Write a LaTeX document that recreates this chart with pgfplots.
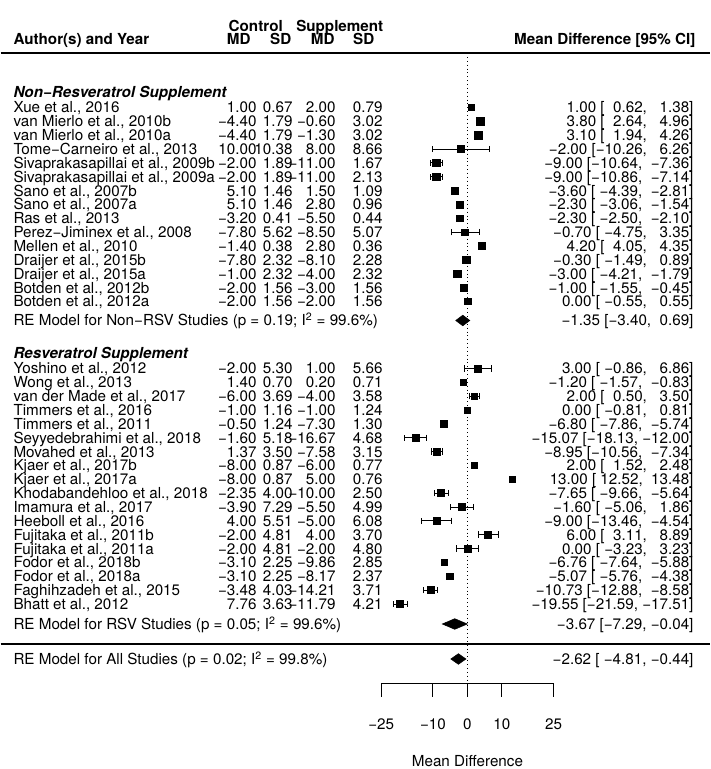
\documentclass[border=0pt]{standalone}
\usepackage{pgfplots}
\pgfplotsset{compat=1.18}
\usepackage{pgfplotstable}
\usepackage{fontspec}
\setmainfont{TeX Gyre Heros}
\newcommand\pd{\hspace{0.278em}}
\newcommand\ff{\fontsize{11.4pt}{13pt}\selectfont}
\newcommand{\studyrow}[7]{%
  \node[anchor=base west] at (axis cs:-131.65,#1) {#2};
  \node[anchor=base east] at (axis cs:-61.07,#1) {#3};
  \node[anchor=base east] at (axis cs:-50.64,#1) {#4};
  \node[anchor=base east] at (axis cs:-38.17,#1) {#5};
  \node[anchor=base east] at (axis cs:-24.55,#1) {#6};
  \node[anchor=base east] at (axis cs:65.59,#1) {#7};
}
\pgfplotstableread{
y est lo hi sz
-107.5 1.00 0.62 1.38 2.2
-121.35 3.80 2.64 4.96 2.9
-135.2 3.10 1.94 4.26 2.9
-149.05 -2.00 -10.26 6.26 2.6
-162.9 -9.00 -10.64 -7.36 2.8
-176.75 -9.00 -10.86 -7.14 2.8
-190.6 -3.60 -4.39 -2.81 2.5
-204.45 -2.30 -3.06 -1.54 2.5
-218.3 -2.30 -2.50 -2.10 2.5
-232.15 -0.70 -4.75 3.35 2.5
-246.0 4.20 4.05 4.35 2.5
-259.85 -0.30 -1.49 0.89 2.8
-273.7 -3.00 -4.21 -1.79 2.8
-287.55 -1.00 -1.55 -0.45 2.5
-301.4 0.00 -0.55 0.55 2.5
}\nonrsv
\pgfplotstableread{
y est lo hi sz
-368.5 3.00 -0.86 6.86 2.6
-382.35 -1.20 -1.57 -0.83 2.3
-396.2 2.00 0.50 3.50 2.5
-410.05 0.00 -0.81 0.81 2.3
-423.9 -6.80 -7.86 -5.74 2.8
-437.75 -15.07 -18.13 -12.00 2.6
-451.6 -8.95 -10.56 -7.34 2.6
-465.45 2.00 1.52 2.48 2.3
-479.3 13.00 12.52 13.48 2.5
-493.15 -7.65 -9.66 -5.64 2.6
-507.0 -1.60 -5.06 1.86 2.7
-520.85 -9.00 -13.46 -4.54 2.7
-534.7 6.00 3.11 8.89 2.6
-548.55 0.00 -3.23 3.23 2.6
-562.4 -6.76 -7.64 -5.88 2.5
-576.25 -5.07 -5.76 -4.38 2.5
-590.1 -10.73 -12.88 -8.58 2.6
-603.95 -19.55 -21.59 -17.51 2.6
}\rsv
\pgfplotsset{forestpts/.style={scatter, only marks, mark=square*,
  scatter/use mapped color={draw=black, fill=black},
  visualization depends on={\thisrow{sz} \as \msz},
  scatter/@pre marker code/.append style={/tikz/mark size=\msz},
  error bars/.cd, x dir=both, x explicit, error mark=|,
  error bar style={line width=0.6pt, black},
  error mark options={mark size=2.4pt, line width=0.6pt, black}}}
\begin{document}
\ff
\begin{tikzpicture}[font=\ff, every node/.style={inner sep=0pt, font=\ff}]
\begin{axis}[hide axis, scale only axis, width=531.75pt, height=576.75pt,
  xmin=-135.28, xmax=70.23, ymin=-769, ymax=0, clip=false]
\path (rel axis cs:0,0) rectangle (rel axis cs:1,1);
% header
\node[anchor=base] at (axis cs:-61.36,-31.5) {\bfseries Control};
\node[anchor=base] at (axis cs:-37.01,-31.5) {\bfseries Supplement};
\node[anchor=base west] at (axis cs:-131.65,-45) {\bfseries Author(s) and Year};
\node[anchor=base] at (axis cs:-66.29,-45) {\bfseries MD};
\node[anchor=base] at (axis cs:-54.12,-45) {\bfseries SD};
\node[anchor=base] at (axis cs:-41.94,-45) {\bfseries MD};
\node[anchor=base] at (axis cs:-30.06,-45) {\bfseries SD};
\node[anchor=base east] at (axis cs:66.17,-45) {\bfseries Mean Difference [95\% CI]};
\draw[line width=1.1pt] (axis cs:-135.28,-53) -- (axis cs:70.23,-53);
\draw[line width=0.9pt] (axis cs:-135.28,-644) -- (axis cs:70.23,-644);
\draw[line width=0.6pt, dash pattern=on 0.7pt off 2.2pt] (axis cs:0,-57) -- (axis cs:0,-684);
% groups
\node[anchor=base west] at (axis cs:-131.65,-98) {\bfseries\itshape Non−Resveratrol Supplement};
\studyrow{-113}{Xue et al., 2016}{1.00}{0.67}{2.00}{0.79}{1.00 [\pd\pd0.62, \pd\pd1.38]}
\studyrow{-126.85}{van Mierlo et al., 2010b}{−4.40}{1.79}{−0.60}{3.02}{3.80 [\pd\pd2.64, \pd\pd4.96]}
\studyrow{-140.7}{van Mierlo et al., 2010a}{−4.40}{1.79}{−1.30}{3.02}{3.10 [\pd\pd1.94, \pd\pd4.26]}
\studyrow{-154.55}{Tome−Carneiro et al., 2013}{10.00}{10.38}{8.00}{8.66}{−2.00 [−10.26, \pd\pd6.26]}
\studyrow{-168.4}{Sivaprakasapillai et al., 2009b}{−2.00}{1.89}{−11.00}{1.67}{−9.00 [−10.64, \pd−7.36]}
\studyrow{-182.25}{Sivaprakasapillai et al., 2009a}{−2.00}{1.89}{−11.00}{2.13}{−9.00 [−10.86, \pd−7.14]}
\studyrow{-196.1}{Sano et al., 2007b}{5.10}{1.46}{1.50}{1.09}{−3.60 [\pd−4.39, \pd−2.81]}
\studyrow{-209.95}{Sano et al., 2007a}{5.10}{1.46}{2.80}{0.96}{−2.30 [\pd−3.06, \pd−1.54]}
\studyrow{-223.8}{Ras et al., 2013}{−3.20}{0.41}{−5.50}{0.44}{−2.30 [\pd−2.50, \pd−2.10]}
\studyrow{-237.65}{Perez−Jiminex et al., 2008}{−7.80}{5.62}{−8.50}{5.07}{−0.70 [\pd−4.75, \pd\pd3.35]}
\studyrow{-251.5}{Mellen et al., 2010}{−1.40}{0.38}{2.80}{0.36}{4.20 [\pd\pd4.05, \pd\pd4.35]}
\studyrow{-265.35}{Draijer et al., 2015b}{−7.80}{2.32}{−8.10}{2.28}{−0.30 [\pd−1.49, \pd\pd0.89]}
\studyrow{-279.2}{Draijer et al., 2015a}{−1.00}{2.32}{−4.00}{2.32}{−3.00 [\pd−4.21, \pd−1.79]}
\studyrow{-293.05}{Botden et al., 2012b}{−2.00}{1.56}{−3.00}{1.56}{−1.00 [\pd−1.55, \pd−0.45]}
\studyrow{-306.9}{Botden et al., 2012a}{−2.00}{1.56}{−2.00}{1.56}{0.00 [\pd−0.55, \pd\pd0.55]}
\node[anchor=base west] at (axis cs:-131.65,-326) {RE Model for Non−RSV Studies (p = 0.19; I\textsuperscript{2} = 99.6\%)};
\node[anchor=base east] at (axis cs:65.59,-326) {−1.35 [−3.40, \pd0.69]};
\node[anchor=base west] at (axis cs:-131.65,-358.5) {\bfseries\itshape Resveratrol Supplement};
\studyrow{-374}{Yoshino et al., 2012}{−2.00}{5.30}{1.00}{5.66}{3.00 [\pd−0.86, \pd\pd6.86]}
\studyrow{-387.85}{Wong et al., 2013}{1.40}{0.70}{0.20}{0.71}{−1.20 [\pd−1.57, \pd−0.83]}
\studyrow{-401.7}{van der Made et al., 2017}{−6.00}{3.69}{−4.00}{3.58}{2.00 [\pd\pd0.50, \pd\pd3.50]}
\studyrow{-415.55}{Timmers et al., 2016}{−1.00}{1.16}{−1.00}{1.24}{0.00 [\pd−0.81, \pd\pd0.81]}
\studyrow{-429.4}{Timmers et al., 2011}{−0.50}{1.24}{−7.30}{1.30}{−6.80 [\pd−7.86, \pd−5.74]}
\studyrow{-443.25}{Seyyedebrahimi et al., 2018}{−1.60}{5.18}{−16.67}{4.68}{−15.07 [−18.13, −12.00]}
\studyrow{-457.1}{Movahed et al., 2013}{1.37}{3.50}{−7.58}{3.15}{−8.95 [−10.56, \pd−7.34]}
\studyrow{-470.95}{Kjaer et al., 2017b}{−8.00}{0.87}{−6.00}{0.77}{2.00 [\pd\pd1.52, \pd\pd2.48]}
\studyrow{-484.8}{Kjaer et al., 2017a}{−8.00}{0.87}{5.00}{0.76}{13.00 [\pd12.52, \pd13.48]}
\studyrow{-498.65}{Khodabandehloo et al., 2018}{−2.35}{4.00}{−10.00}{2.50}{−7.65 [\pd−9.66, \pd−5.64]}
\studyrow{-512.5}{Imamura et al., 2017}{−3.90}{7.29}{−5.50}{4.99}{−1.60 [\pd−5.06, \pd\pd1.86]}
\studyrow{-526.35}{Heeboll et al., 2016}{4.00}{5.51}{−5.00}{6.08}{−9.00 [−13.46, \pd−4.54]}
\studyrow{-540.2}{Fujitaka et al., 2011b}{−2.00}{4.81}{4.00}{3.70}{6.00 [\pd\pd3.11, \pd\pd8.89]}
\studyrow{-554.05}{Fujitaka et al., 2011a}{−2.00}{4.81}{−2.00}{4.80}{0.00 [\pd−3.23, \pd\pd3.23]}
\studyrow{-567.9}{Fodor et al., 2018b}{−3.10}{2.25}{−9.86}{2.85}{−6.76 [\pd−7.64, \pd−5.88]}
\studyrow{-581.75}{Fodor et al., 2018a}{−3.10}{2.25}{−8.17}{2.37}{−5.07 [\pd−5.76, \pd−4.38]}
\studyrow{-595.6}{Faghihzadeh et al., 2015}{−3.48}{4.03}{−14.21}{3.71}{−10.73 [−12.88, \pd−8.58]}
\studyrow{-609.45}{Bhatt et al., 2012}{7.76}{3.63}{−11.79}{4.21}{−19.55 [−21.59, −17.51]}
\node[anchor=base west] at (axis cs:-131.65,-629.5) {RE Model for RSV Studies (p = 0.05; I\textsuperscript{2} = 99.6\%)};
\node[anchor=base east] at (axis cs:65.59,-629.5) {−3.67 [−7.29, −0.04]};
\node[anchor=base west] at (axis cs:-131.65,-664.5) {RE Model for All Studies (p = 0.02; I\textsuperscript{2} = 99.8\%)};
\node[anchor=base east] at (axis cs:65.59,-664.5) {−2.62 [\pd−4.81, −0.44]};
% points
\addplot[forestpts] table[x=est, y=y, x error plus expr=\thisrow{hi}-\thisrow{est}, x error minus expr=\thisrow{est}-\thisrow{lo}] {\nonrsv};
\addplot[forestpts] table[x=est, y=y, x error plus expr=\thisrow{hi}-\thisrow{est}, x error minus expr=\thisrow{est}-\thisrow{lo}] {\rsv};
% summary diamonds
\addplot[fill=black, draw=black, line width=0.4pt] coordinates {(-3.40,-320.5) (-1.35,-315.2) (0.69,-320.5) (-1.35,-325.8)} -- cycle;
\addplot[fill=black, draw=black, line width=0.4pt] coordinates {(-7.29,-624) (-3.67,-618.7) (-0.04,-624) (-3.67,-629.3)} -- cycle;
\addplot[fill=black, draw=black, line width=0.4pt] coordinates {(-4.81,-659) (-2.62,-653.7) (-0.44,-659) (-2.62,-664.3)} -- cycle;
% bottom scale
\draw[line width=0.75pt] (axis cs:-25,-684) -- (axis cs:25,-684);
\draw[line width=0.75pt] (axis cs:-25,-684) -- (axis cs:-25,-697);
\draw[line width=0.75pt] (axis cs:-10,-684) -- (axis cs:-10,-697);
\draw[line width=0.75pt] (axis cs:0,-684) -- (axis cs:0,-697);
\draw[line width=0.75pt] (axis cs:10,-684) -- (axis cs:10,-697);
\draw[line width=0.75pt] (axis cs:25,-684) -- (axis cs:25,-697);
\node[anchor=base] at (axis cs:-25,-729.5) {−25};
\node[anchor=base] at (axis cs:-10,-729.5) {−10};
\node[anchor=base] at (axis cs:0,-729.5) {0};
\node[anchor=base] at (axis cs:10,-729.5) {10};
\node[anchor=base] at (axis cs:25,-729.5) {25};
\node[anchor=base] at (axis cs:0,-766.5) {Mean Difference};
\end{axis}
\end{tikzpicture}
\end{document}
